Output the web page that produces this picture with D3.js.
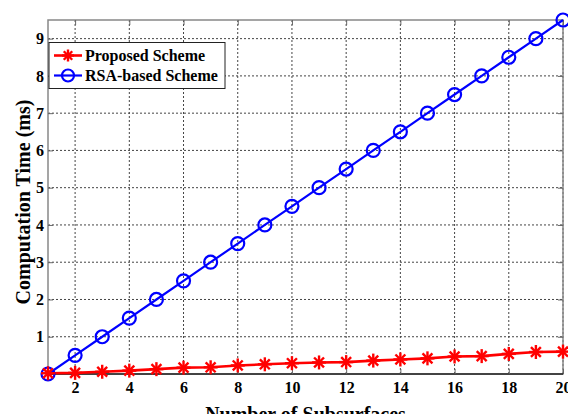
<!DOCTYPE html>
<html>
<head>
<meta charset="utf-8">
<script src="https://d3js.org/d3.v7.min.js"></script>
<style>
  body { margin: 0; background: #fff; }
  text { font-family: "Liberation Serif", "Times New Roman", serif; font-weight: bold; fill: #000; }
</style>
</head>
<body>
<div id="chart"></div>
<script>
// number of subsurfaces
var subsurfaces = [1, 2, 3, 4, 5, 6, 7, 8, 9, 10, 11, 12, 13, 14, 15, 16, 17, 18, 19, 20];
// computation time (ms)
var proposed = [0.02, 0.03, 0.06, 0.09, 0.13, 0.17, 0.18, 0.23, 0.26, 0.29, 0.31, 0.32, 0.36, 0.39, 0.42, 0.47, 0.48, 0.54, 0.59, 0.6];
var rsaBased = [0, 0.5, 1, 1.5, 2, 2.5, 3, 3.5, 4, 4.5, 5, 5.5, 6, 6.5, 7, 7.5, 8, 8.5, 9, 9.5];
var xTicks = [2, 4, 6, 8, 10, 12, 14, 16, 18, 20];
var yTicks = [1, 2, 3, 4, 5, 6, 7, 8, 9];
var seriesNames = ["Proposed Scheme", "RSA-based Scheme"];

var W = 568, H = 414;
var margin = {top: 20, right: 5, bottom: 40, left: 48};
var width = W - margin.left - margin.right,
    height = H - margin.top - margin.bottom;

var svg = d3.select("#chart").append("svg")
    .attr("width", W).attr("height", H);
var g = svg.append("g")
    .attr("transform", "translate(" + margin.left + "," + margin.top + ")");

var x = d3.scaleLinear().domain([1, 20]).range([0, width]);
var y = d3.scaleLinear().domain([0, 9.5]).range([height, 0]);

// grid
g.selectAll(".vgrid").data(xTicks).enter().append("line")
    .attr("x1", d => x(d)).attr("x2", d => x(d))
    .attr("y1", 0).attr("y2", height)
    .attr("stroke", "#444").attr("stroke-width", 1).attr("stroke-dasharray", "2,2");
g.selectAll(".hgrid").data(yTicks).enter().append("line")
    .attr("x1", 0).attr("x2", width)
    .attr("y1", d => y(d)).attr("y2", d => y(d))
    .attr("stroke", "#444").attr("stroke-width", 1).attr("stroke-dasharray", "2,2");

// box
g.append("rect").attr("width", width).attr("height", height)
    .attr("fill", "none").attr("stroke", "#888").attr("stroke-width", 1.5);
g.append("line").attr("x1", 0).attr("x2", width).attr("y1", height).attr("y2", height)
    .attr("stroke", "#222").attr("stroke-width", 1.5);

// axes (ticks inside, MATLAB style)
g.append("g").attr("transform", "translate(0," + height + ")")
    .call(d3.axisBottom(x).tickValues(xTicks).tickSize(-5).tickPadding(8));
g.append("g")
    .call(d3.axisLeft(y).tickValues(yTicks).tickSize(-5).tickPadding(4));
g.append("g").attr("transform", "translate(" + width + ",0)")
    .call(d3.axisRight(y).tickValues(yTicks).tickSize(-5).tickFormat(""));
g.append("g")
    .call(d3.axisTop(x).tickValues(xTicks).tickSize(-5).tickFormat(""));
g.selectAll(".domain").remove();
g.selectAll(".tick line").attr("stroke", "#666");
g.selectAll(".tick text").style("font-size", "16px").style("font-family", "Liberation Serif").style("font-weight", "bold");

// lines
var line = d3.line().x((d, i) => x(subsurfaces[i])).y(d => y(d));
g.append("path").datum(rsaBased).attr("d", line)
    .attr("fill", "none").attr("stroke", "#0000ff").attr("stroke-width", 2.2);
g.append("path").datum(proposed).attr("d", line)
    .attr("fill", "none").attr("stroke", "#ff0000").attr("stroke-width", 2.6);

function star(sel, r) {
  for (var k = 0; k < 4; k++) {
    var a = k * Math.PI / 4;
    sel.append("line")
      .attr("x1", -r * Math.cos(a)).attr("y1", -r * Math.sin(a))
      .attr("x2", r * Math.cos(a)).attr("y2", r * Math.sin(a))
      .attr("stroke", "#ff0000").attr("stroke-width", 2.4);
  }
}

// markers
g.selectAll(".circ").data(rsaBased).enter().append("circle")
    .attr("cx", (d, i) => x(subsurfaces[i])).attr("cy", d => y(d))
    .attr("r", 6.5).attr("fill", "none").attr("stroke", "#0000ff").attr("stroke-width", 2.2);
g.selectAll(".star").data(proposed).enter().append("g")
    .attr("transform", (d, i) => "translate(" + x(subsurfaces[i]) + "," + y(d) + ")")
    .each(function() { star(d3.select(this), 7); });

// legend
var lg = g.append("g").attr("transform", "translate(1,22.5)");
lg.append("rect").attr("width", 176).attr("height", 46)
    .attr("fill", "#fff").attr("stroke", "#222").attr("stroke-width", 1);
var ly = [13, 33];
lg.append("line").attr("x1", 5).attr("x2", 33).attr("y1", ly[0]).attr("y2", ly[0])
    .attr("stroke", "#ff0000").attr("stroke-width", 2.6);
star(lg.append("g").attr("transform", "translate(19," + ly[0] + ")"), 6);
lg.append("line").attr("x1", 5).attr("x2", 33).attr("y1", ly[1]).attr("y2", ly[1])
    .attr("stroke", "#0000ff").attr("stroke-width", 2.2);
lg.append("circle").attr("cx", 19).attr("cy", ly[1]).attr("r", 6)
    .attr("fill", "none").attr("stroke", "#0000ff").attr("stroke-width", 2.2);
lg.selectAll(".lt").data(seriesNames).enter().append("text")
    .attr("x", 36).attr("y", (d, i) => ly[i] + 5.5)
    .style("font-size", "16px").text(d => d);

// axis titles
svg.append("text")
    .attr("transform", "translate(" + (margin.left + width / 2) + "," + (H + 7) + ")")
    .attr("text-anchor", "middle").style("font-size", "20px")
    .text("Number of Subsurfaces");
svg.append("text")
    .attr("transform", "translate(30," + (margin.top + height / 2 + 5) + ") rotate(-90)")
    .attr("text-anchor", "middle").style("font-size", "20px")
    .text("Computation Time (ms)");
</script>
</body>
</html>
